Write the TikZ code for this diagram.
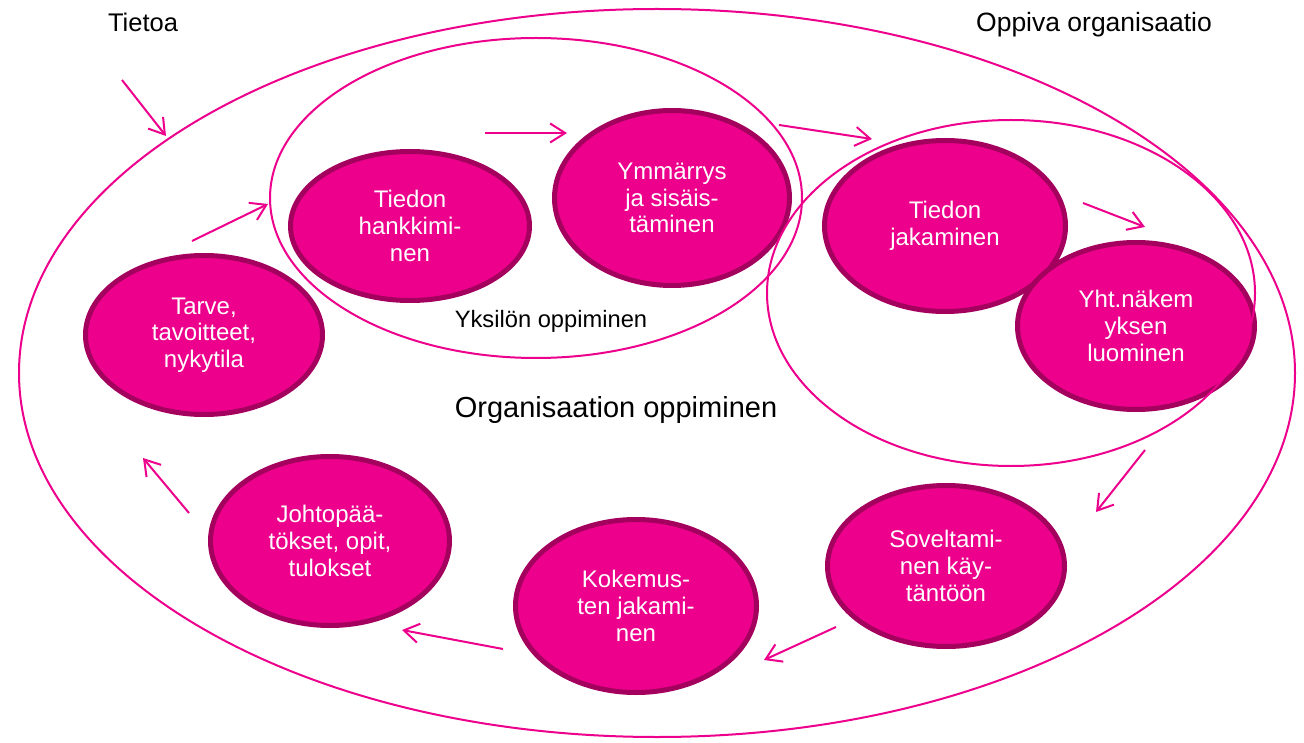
\documentclass[tikz,border=0pt]{standalone}
\usepackage{fontspec}
\setmainfont{Liberation Sans}
\usetikzlibrary{shapes.geometric}
\usetikzlibrary{arrows.meta}
\definecolor{pinkline}{HTML}{EC008C}
\definecolor{pinkfill}{HTML}{EC008C}
\definecolor{pinkedge}{HTML}{A4005E}

\begin{document}
\begin{tikzpicture}[x=1pt,y=-1pt, oval/.style={ellipse,inner sep=0pt}]
	\tikzstyle{stage}=[oval,fill=pinkfill,draw=pinkedge,line width=5pt,text=white,align=center,font=\fontsize{24}{26.7}\selectfont]
	\tikzstyle{area}=[oval,draw=pinkline,line width=2pt]
	\tikzstyle{flow}=[draw=pinkline,line width=2pt,-{Straight Barb[length=15pt,width=19pt]}]
	\tikzstyle{caption}=[inner sep=0pt,anchor=base,text=black]
	
	\useasboundingbox (0,0) rectangle (1304,743);
	
	% Draw the learning stages
	\foreach \name/\x/\y/\w/\h/\txt in {
		hankinta/410/226/239/149/{Tiedon\\hankkimi-\\nen},
		ymmarrys/672/198/235/175/{Ymmärrys\\ja sisäis-\\täminen},
		jakaminen/945/226/241/171/{Tiedon\\jakaminen},
		visio/1136/326/237/167/{Yht.näkem\\yksen\\luominen},
		soveltaminen/946/566/237/161/{Soveltami-\\nen käy-\\täntöön},
		kokemus/636/606/241/173/{Kokemus-\\ten jakami-\\nen},
		johtopaatos/330/541/239/169/{Johtopää-\\tökset, opit,\\tulokset},
		tarve/204/335/237/159/{Tarve,\\tavoitteet,\\nykytila}}
	\node[stage,minimum width=\w pt,minimum height=\h pt] (\name) at (\x,\y) {\txt};
	
	% Draw the learning areas
	\node[area,minimum width=1276pt,minimum height=728pt] (organisaatio) at (657,373) {};
	\node[area,minimum width=532pt,minimum height=320pt] (yksilo) at (536,198) {};
	\node[area,minimum width=488pt,minimum height=346pt] (yhteinen) at (1011,293) {};
	
	% Annotate the areas
	\node[caption,font=\fontsize{25.5}{30}\selectfont] (tietoa) at (143,32) {Tietoa};
	\node[caption,font=\fontsize{26.5}{30}\selectfont] (oppiva) at (1094,32) {Oppiva organisaatio};
	\node[caption,font=\fontsize{23.7}{28}\selectfont] (yksilo-l) at (551,328) {Yksilön oppiminen};
	\node[caption,font=\fontsize{29}{34}\selectfont] (organisaatio-l) at (616,417) {Organisaation oppiminen};
	
	% Arrow ends
	\foreach \name/\from/\to in {
		1/{122,80}/{166,136},
		2/{192,241}/{268,204},
		3/{485,133}/{567,133},
		4/{779,125}/{872,139},
		5/{1083,203}/{1145,227},
		6/{1145,450}/{1096,512},
		7/{836,627}/{764,660},
		8/{503,649}/{402,630},
		9/{189,513}/{143,458}}
	{
		\coordinate (A-\name) at (\from);
		\coordinate (B-\name) at (\to);
	}
	
	% Connect the stages
	\foreach \name in {1,...,9}
	\draw[flow] (A-\name) -- (B-\name);
	
\end{tikzpicture}
\end{document}
